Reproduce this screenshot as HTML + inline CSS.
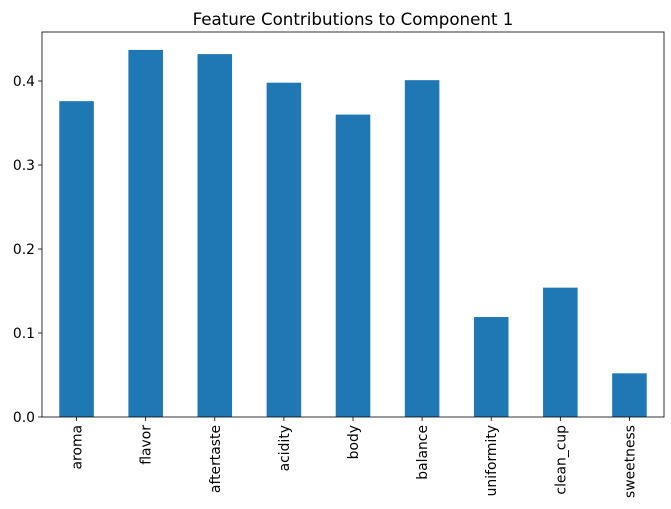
<!DOCTYPE html>
<html><head><meta charset="utf-8"><style>body{margin:0;background:#fff}svg{display:block}text{font-family:"DejaVu Sans","Liberation Sans",sans-serif}</style></head>
<body>
<svg id="chart" width="671" height="509"></svg>
<script>
const categories=["aroma","flavor","aftertaste","acidity","body","balance","uniformity","clean_cup","sweetness"];
const values=[0.376,0.437,0.432,0.398,0.360,0.401,0.119,0.154,0.052];
const yTicks=[0.0,0.1,0.2,0.3,0.4];
const yTickLabels=["0.0","0.1","0.2","0.3","0.4"];
const NS="http://www.w3.org/2000/svg";
const svg=document.getElementById('chart');
const L=42,R=664,T=32,B=417;
const y=v=>B-v*840;
const step=(R-L)/categories.length;
const x=i=>L+step*(i+0.5);
function el(t,a,p){const e=document.createElementNS(NS,t);for(const k in a)e.setAttribute(k,a[k]);(p||svg).appendChild(e);return e;}
categories.forEach((c,i)=>{
  const r=el('rect',{x:x(i)-step/4,y:y(values[i]),width:step/2,height:B-y(values[i]),fill:'#1f77b4'});
  
  
  const tk=el('line',{x1:x(i),x2:x(i),y1:B,y2:B+4,stroke:'#000','stroke-width':0.8});
  
  
  const t=el('text',{x:0,y:0,'font-size':13.9,'text-anchor':'end',transform:`translate(${x(i)+5},${B+8}) rotate(-90)`});
  t.textContent=c;
  
  
});
yTicks.forEach((v,i)=>{
  const tk=el('line',{x1:L-4,x2:L,y1:y(v),y2:y(v),stroke:'#000','stroke-width':0.8});
  
  
  const t=el('text',{x:L-7,y:y(v)+5,'font-size':13.9,'text-anchor':'end'});
  t.textContent=yTickLabels[i];
  
  
});
const f=el('rect',{x:L,y:T,width:R-L,height:B-T,fill:'none',stroke:'#000','stroke-width':0.8});


const ti=el('text',{x:(L+R)/2,y:T-7,'font-size':16.7,'text-anchor':'middle'});
ti.textContent='Feature Contributions to Component 1';


</script>
</body></html>
